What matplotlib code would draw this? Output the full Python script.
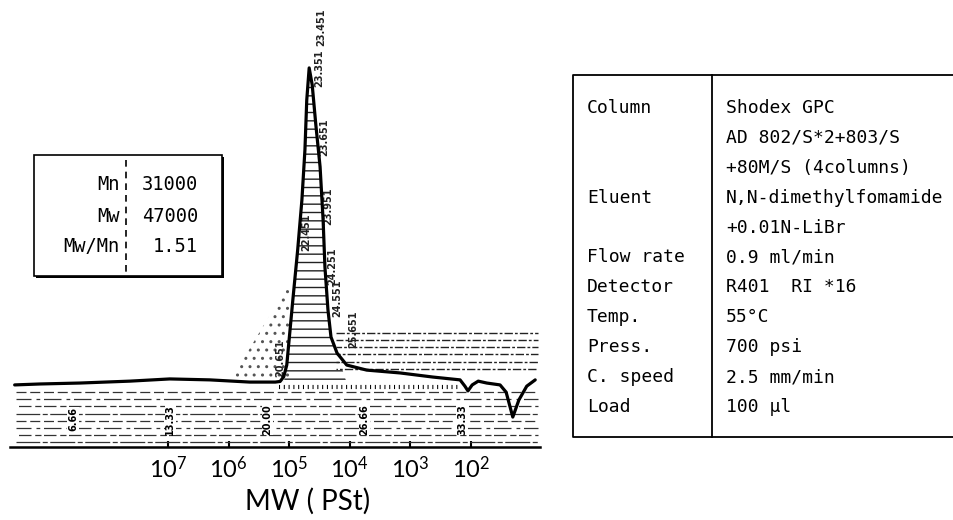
import numpy as np
import matplotlib
matplotlib.use('Agg')
from matplotlib import pyplot as plt
from matplotlib.patches import Rectangle


# GPC 色谱曲线：log10(MW) 与检测器响应（峰顶 = 100）
log_mw = [9.53, 9.11, 8.45, 7.63, 6.97, 6.31, 5.65, 5.23,
          5.15, 5.09, 5.04, 4.94, 4.86, 4.79, 4.74, 4.71, 4.67,
          4.62, 4.56, 4.49, 4.44, 4.41, 4.36, 4.31, 4.21, 4.05,
          3.72, 3.17, 2.63, 2.18,
          2.10, 2.05, 1.98, 1.88, 1.74, 1.52, 1.42, 1.31, 1.21, 1.08, 0.94]
response = [-0.6, -0.3, 0.0, 0.6, 1.3, 1.0, 0.3, 0.3,
            0.5, 2.0, 5.7, 26.3, 42.2, 58.1, 74.0, 89.8, 100.0,
            94.6, 81.9, 68.6, 51.7, 36.8, 23.2, 14.6, 9.5, 5.7,
            4.1, 3.2, 1.9, 1.0,
            -1.0, -2.5, -0.6, 0.6, 0.0, -0.6, -2.9, -10.8, -5.4, -1.0, 1.0]

# 横轴刻度（10 的幂）
tick_exponents = [7, 6, 5, 4, 3, 2]

# 保留时间标记 (min)
retention_marks = ['6.66', '13.33', '20.00', '26.66', '33.33']
peak_marks = ['20.651', '22.451', '23.351', '23.451', '23.651',
              '23.951', '24.251', '24.551', '25.651']
peak_mark_levels = [8, 48, 100, 113, 78, 56, 37, 27, 17]

# 分子量结果
stat_names = ['Mn', 'Mw', 'Mw/Mn']
stat_values = ['31000', '47000', '1.51']

# 测定条件
cond_names = ['Column', '', '', 'Eluent', '', 'Flow rate', 'Detector',
              'Temp.', 'Press.', 'C. speed', 'Load']
cond_values = ['Shodex GPC', 'AD 802/S*2+803/S', '+80M/S (4columns)',
               'N,N-dimethylfomamide', '+0.01N-LiBr', '0.9 ml/min',
               'R401  RI *16', '55°C', '700 psi', '2.5 mm/min', '100 μl']


# 保留时间 -> log10(MW) 校准
def t_to_logm(t):
    return 10.171 - 0.2407 * t


x = np.array(log_mw)
y = np.array(response)

fig = plt.figure(figsize=(9.54, 5.2), dpi=100)

# 色谱图区域
ax = fig.add_axes([10 / 954, 73 / 520, 530 / 954, 427 / 520])
ax.set_xlim(9.607, 0.861)
ax.set_ylim(-20.3, 115.2)

# 基线下方的记录纸纹理
band_levels = np.linspace(-2.9, -18.7, 8)
band_styles = [(0, (8, 3)), (2, (14, 4, 3, 3)), (5, (5, 2, 10, 3)),
               (1, (20, 2, 4, 2))]
for i, lv in enumerate(band_levels):
    ax.hlines(lv, 9.5, 0.9, colors='#333333', lw=0.9,
              linestyles=[band_styles[i % 4]])

# 峰下方的积分刻线
ax.hlines(-1.3, 5.17, 2.2, colors='black', lw=3.0,
          linestyles=[(0, (0.25, 0.9))])

# 峰内横向阴影
mask = (x <= 5.05) & (x >= 4.2)
ax.fill_between(x, 0, y, where=mask, interpolate=True,
                facecolor='none', edgecolor='#222222', lw=0, hatch='--')

# 峰左侧的点状纹理
sx = np.array([5.98, 4.99])
ax.fill_between(sx, [0.5, 0.5], [0.5, 32], facecolor='none',
                edgecolor='#555555', lw=0, hatch='..')

# 拖尾区域的虚线
for i, lv in enumerate(np.linspace(16, 4.5, 6)):
    ax.hlines(lv, 4.22, 0.9, colors='#222222', lw=1.0,
              linestyles=[(i, (6, 1.5, 2, 1.5))])

# 色谱曲线
ax.plot(x, y, color='black', lw=2.3, solid_joinstyle='round',
        solid_capstyle='round', zorder=5)

# 保留时间标记
for m in retention_marks:
    ax.text(t_to_logm(float(m)), -11.5, m, rotation=90, ha='center',
            va='center', fontsize=7, fontweight='bold',
            bbox=dict(facecolor='white', edgecolor='none', pad=0.5))
for m, lv in zip(peak_marks, peak_mark_levels):
    ax.text(t_to_logm(float(m)) - 0.05, lv, m, rotation=90, ha='center',
            va='center', fontsize=7, fontweight='bold', color='#222222')

# 坐标轴
for side in ['left', 'top', 'right']:
    ax.spines[side].set_visible(False)
ax.spines['bottom'].set_linewidth(1.8)
ax.set_yticks([])
ax.set_xticks(tick_exponents)
ax.set_xticklabels([rf'$\mathregular{{10^{{{e}}}}}$' for e in tick_exponents],
                   fontsize=17, family=['Lato', 'Liberation Sans'])
ax.tick_params(axis='x', direction='in', length=4, width=1.5, pad=6)
ax.set_xlabel('MW ( PSt)', fontsize=20, family=['Lato', 'Liberation Sans'])
ax.xaxis.set_label_coords(0.562, -0.095)
ax.patch.set_alpha(0)

# 叠加层：结果框与条件表
ov = fig.add_axes([0, 0, 1, 1])
ov.set_xlim(0, 954)
ov.set_ylim(520, 0)
ov.axis('off')

# 结果框（带阴影）
ov.add_patch(Rectangle((36, 157), 188, 121, facecolor='black', lw=0))
ov.add_patch(Rectangle((34, 155), 188, 121, facecolor='white',
                       edgecolor='black', lw=1.2))
ov.plot([126, 126], [160, 272], color='black', lw=1.2, ls=(0, (4, 3)))
for i, (nm, val) in enumerate(zip(stat_names, stat_values)):
    yy = 185 + i * 31
    ov.text(120, yy, nm, ha='right', va='center', fontsize=13.5,
            family='DejaVu Sans Mono')
    ov.text(198, yy, val, ha='right', va='center', fontsize=13.5,
            family='DejaVu Sans Mono')

# 条件表
ov.plot([960, 573, 573, 960], [75, 75, 437, 437], color='black', lw=1.3)
ov.plot([712, 712], [75, 437], color='black', lw=1.3)
for i, (nm, val) in enumerate(zip(cond_names, cond_values)):
    yy = 108 + i * 29.9
    ov.text(587, yy, nm, ha='left', va='center', fontsize=13,
            family='DejaVu Sans Mono')
    ov.text(726, yy, val, ha='left', va='center', fontsize=13,
            family='DejaVu Sans Mono')

fig.savefig('out.png', dpi=100)
